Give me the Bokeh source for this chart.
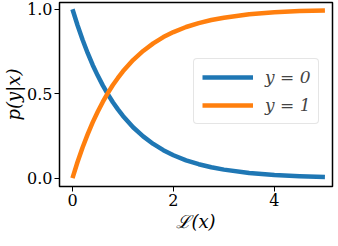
from bokeh.plotting import figure
from bokeh.models import Range1d, FixedTicker, Legend, LegendItem
from bokeh.embed import file_html
from bokeh.resources import INLINE

# data
x_vals = [0.0, 0.1, 0.2, 0.3, 0.4, 0.5, 0.6, 0.7, 0.8, 0.9, 1.0, 1.2, 1.4,
          1.6, 1.8, 2.0, 2.25, 2.5, 2.75, 3.0, 3.5, 4.0, 4.5, 5.0]
p_y0 = [1.000, 0.905, 0.819, 0.741, 0.670, 0.607, 0.549, 0.497, 0.449, 0.407,
        0.368, 0.301, 0.247, 0.202, 0.165, 0.135, 0.105, 0.082, 0.064, 0.050,
        0.030, 0.018, 0.011, 0.007]
p_y1 = [0.000, 0.095, 0.181, 0.259, 0.330, 0.393, 0.451, 0.503, 0.551, 0.593,
        0.632, 0.699, 0.753, 0.798, 0.835, 0.865, 0.895, 0.918, 0.936, 0.950,
        0.970, 0.982, 0.989, 0.993]
x_ticks = [0, 2, 4]
x_tick_labels = ["0", "2", "4"]
y_ticks = [0.0, 0.5, 1.0]
y_tick_labels = ["0.0", "0.5", "1.0"]
labels = ["y = 0", "y = 1"]
colors = ["#1f77b4", "#ff7f0e"]

SERIF = "DejaVu Serif"

p = figure(output_backend="svg", toolbar_location=None,
           frame_width=273, frame_height=184,
           x_range=Range1d(-0.257, 5.15), y_range=Range1d(-0.05, 1.04),
           min_border_left=51, min_border_right=2, min_border_top=2,
           min_border_bottom=44)
p.grid.visible = False
p.outline_line_color = "black"
p.outline_line_width = 1.5
p.background_fill_color = "white"
p.border_fill_color = "white"

r0 = p.line(x_vals, p_y0, line_color=colors[0], line_width=4.5,
            line_join="round")
r1 = p.line(x_vals, p_y1, line_color=colors[1], line_width=4.5,
            line_join="round")

for ax in (p.xaxis[0], p.yaxis[0]):
    ax.axis_line_color = None
    ax.major_tick_line_color = "black"
    ax.major_tick_line_width = 1
    ax.major_tick_out = 5
    ax.major_tick_in = 0
    ax.minor_tick_line_color = None
    ax.major_label_text_font = SERIF
    ax.major_label_text_font_size = "16px"
    ax.major_label_text_color = "black"
    ax.axis_label_text_font = SERIF
    ax.axis_label_text_font_size = "18px"
    ax.axis_label_text_font_style = "italic"
    ax.axis_label_text_color = "black"
    ax.major_label_standoff = 2

p.xaxis.ticker = FixedTicker(ticks=x_ticks)
p.yaxis.ticker = FixedTicker(ticks=y_ticks)
p.xaxis.major_label_overrides = {t: l for t, l in zip(x_ticks, x_tick_labels)}
p.yaxis.major_label_overrides = {t: l for t, l in zip(y_ticks, y_tick_labels)}
p.xaxis.axis_label = "ℒ(x)"
p.yaxis.axis_label = "p(y|x)"
p.xaxis.axis_label_standoff = 2
p.yaxis.axis_label_standoff = 0

legend = Legend(items=[LegendItem(label=labels[0], renderers=[r0]),
                       LegendItem(label=labels[1], renderers=[r1])],
                location=(134, 62))
legend.label_text_font = SERIF
legend.label_text_font_style = "italic"
legend.label_text_font_size = "17px"
legend.glyph_width = 51
legend.glyph_height = 20
legend.label_height = 20
legend.label_standoff = 12
legend.padding = 8
legend.spacing = 8
legend.margin = 0
legend.border_line_color = "#cccccc"
legend.border_line_width = 1
legend.border_radius = 4
legend.background_fill_alpha = 0.8
p.add_layout(legend, "center")

open("out.html", "w").write(file_html(p, INLINE))
